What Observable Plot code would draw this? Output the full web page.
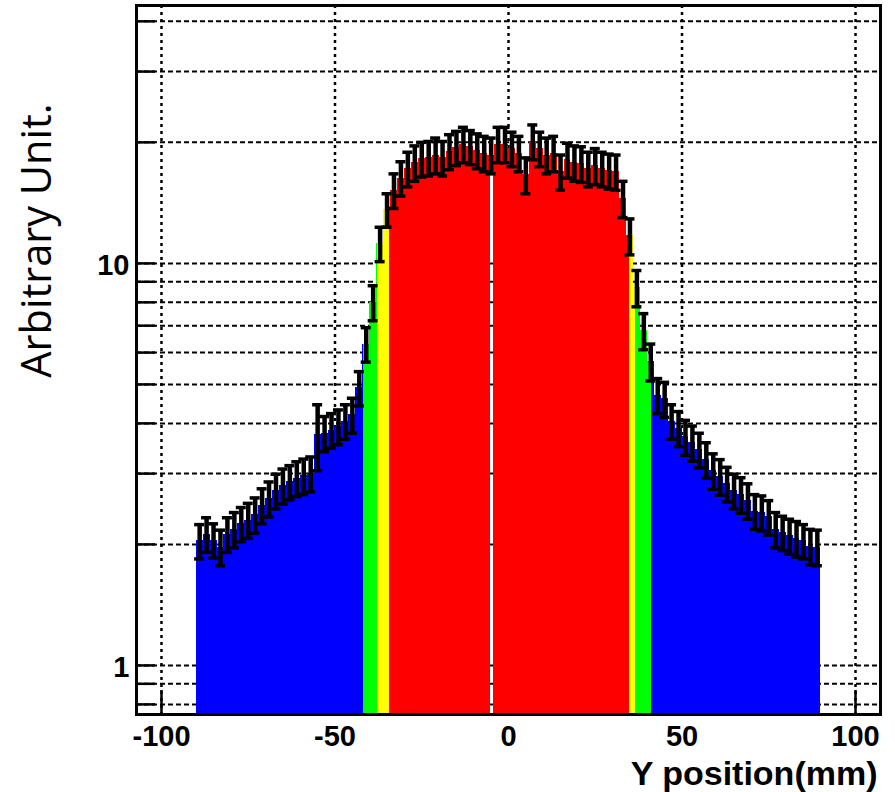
<!DOCTYPE html>
<html><head><meta charset="utf-8">
<script src="https://cdn.jsdelivr.net/npm/d3@7"></script>
<script src="https://cdn.jsdelivr.net/npm/@observablehq/plot@0.6"></script>
<style>body{margin:0;background:#fff;} #chart svg{display:block;}</style>
</head><body><div id="chart"></div>
<script>
// ---- data ----
const binCenters = d3.range(-89, 90, 2); // 90 bins, 2 mm wide, -90..90
const values = [
  2.04, 2.12, 2.05, 1.97, 2.12, 2.18, 2.25, 2.30, 2.37, 2.50,
  2.60, 2.72, 2.80, 2.86, 2.92, 2.96, 3.00, 3.75, 3.78, 3.85,
  3.93, 4.05, 4.20, 4.90, 6.30, 8.00, 11.2, 13.6, 15.2, 16.3,
  17.2, 17.8, 18.2, 18.3, 18.6, 18.3, 19.0, 19.4, 19.8, 19.5,
  19.1, 18.8, 18.6, 19.8, 19.8,
  19.3, 18.8, 16.6, 20.1, 19.3, 18.6, 18.8, 16.9, 18.1, 17.8,
  17.7, 17.2, 17.5, 17.2, 17.0, 16.9, 14.5, 11.7, 8.7, 6.8,
  5.7, 4.70, 4.60, 4.05, 3.89, 3.70, 3.58, 3.44, 3.25, 3.05,
  2.95, 2.83, 2.72, 2.66, 2.57, 2.42, 2.40, 2.34, 2.18, 2.14,
  2.10, 2.07, 2.04, 1.98, 1.97
];
const errors = [
  0.20, 0.21, 0.20, 0.20, 0.21, 0.22, 0.22, 0.23, 0.24, 0.25,
  0.26, 0.27, 0.28, 0.28, 0.29, 0.30, 0.30, 0.70, 0.38, 0.38,
  0.39, 0.40, 0.42, 0.48, 0.62, 0.80, 1.10, 1.30, 1.50, 1.60,
  1.70, 1.80, 1.80, 1.80, 1.90, 1.80, 1.90, 1.90, 2.00, 1.90,
  1.90, 1.90, 1.90, 2.00, 2.00,
  1.90, 1.90, 1.70, 2.00, 1.90, 1.90, 1.90, 1.70, 1.80, 1.80,
  1.80, 1.70, 1.80, 1.70, 1.70, 1.70, 1.50, 1.20, 0.90, 0.70,
  0.60, 0.47, 0.46, 0.40, 0.39, 0.37, 0.36, 0.34, 0.33, 0.31,
  0.30, 0.28, 0.27, 0.27, 0.26, 0.24, 0.24, 0.23, 0.22, 0.21,
  0.21, 0.21, 0.20, 0.20, 0.20
];
const regionStart = [-90, -41.9, -37.8, -34.4, -4.4, 34.9, 36.6, 41.2];
const regionEnd   = [-41.9, -37.8, -34.4, -5.3, 34.9, 36.6, 41.2, 90];
const regionColor = ["#0000ff", "#00ff00", "#ffff00", "#ff0000", "#ff0000", "#ffff00", "#00ff00", "#0000ff"];
const yGridValues = [0.8, 0.9, 1, 2, 3, 4, 5, 6, 7, 8, 9, 10, 20, 30, 40];
const yTickLabels = [1, 10];
const xTickValues = [-100, -50, 0, 50, 100];
const xTitle = "Y position(mm)";
const yTitle = "Arbitrary Unit.";

// ---- layout ----
const W = 895, H = 792, mL = 136, mR = 15, mT = 5, mB = 78;
const xDomain = [-107.2, 107.2], yDomain = [0.755, 43.8];
const pxPerMM = (W - mL - mR) / (xDomain[1] - xDomain[0]);
const pxPerDecade = (H - mT - mB) / Math.log10(yDomain[1] / yDomain[0]);
const yTickLen = 19 / pxPerMM;
const xTickTop = yDomain[0] * Math.pow(10, 24 / pxPerDecade);
const capHalf = 5 / pxPerMM;

const bins = binCenters.map((x, i) => ({x, v: values[i], e: errors[i]}));
const fills = [];
for (const b of bins) {
  for (let r = 0; r < regionStart.length; r++) {
    const a = Math.max(b.x - 1, regionStart[r]), c = Math.min(b.x + 1, regionEnd[r]);
    if (c > a) fills.push({x1: a, x2: c, v: b.v, color: regionColor[r]});
  }
}

const font = "'Liberation Sans', Arial, sans-serif";
const chart = Plot.plot({
  width: W, height: H,
  marginLeft: mL, marginRight: mR, marginTop: mT, marginBottom: mB,
  style: {fontFamily: font, background: "#fff", color: "black"},
  x: {domain: xDomain, label: null},
  y: {type: "log", domain: yDomain, label: null},
  color: {type: "identity"},
  marks: [
    Plot.ruleY(yGridValues, {y: d => d, stroke: "black", strokeWidth: 2, strokeDasharray: "5,3"}),
    Plot.ruleX(xTickValues, {x: d => d, stroke: "black", strokeWidth: 2.5, strokeDasharray: "3,4"}),
    Plot.ruleY(yGridValues, {y: d => d, x1: xDomain[0], x2: xDomain[0] + yTickLen, stroke: "black", strokeWidth: 2.5}),
    Plot.ruleX(xTickValues, {x: d => d, y1: yDomain[0], y2: xTickTop, stroke: "black", strokeWidth: 2.5}),
    Plot.rectY(fills, {x1: "x1", x2: "x2", y1: yDomain[0], y2: "v", fill: "color", shapeRendering: "crispEdges"}),
    Plot.ruleX(bins, {x: "x", y1: d => d.v - d.e, y2: d => d.v + d.e, stroke: "black", strokeWidth: 4.5}),
    Plot.ruleY(bins, {y: d => d.v + d.e, x1: d => d.x - capHalf, x2: d => d.x + capHalf, stroke: "black", strokeWidth: 3.5}),
    Plot.ruleY(bins, {y: d => d.v - d.e, x1: d => d.x - capHalf, x2: d => d.x + capHalf, stroke: "black", strokeWidth: 3.5}),
    Plot.frame({stroke: "black", strokeWidth: 3}),
    Plot.axisY(yTickLabels, {tickSize: 0, tickPadding: 7, fontSize: 29, fontWeight: "bold", tickFormat: d => String(d), dy: 2, label: null}),
    Plot.axisX(xTickValues, {tickSize: 0, tickPadding: 11, fontSize: 29, fontWeight: "bold", tickFormat: d => String(d), label: null}),
    Plot.text([xTitle], {text: d => d, frameAnchor: "bottom-right", dx: -3, dy: 46, textAnchor: "end", lineAnchor: "top", fontSize: 34, fontWeight: "bold"}),
    Plot.text([yTitle], {text: d => d, frameAnchor: "left", rotate: -90, dx: 21 - mL, dy: 240 - (mT + (H - mT - mB) / 2), textAnchor: "middle", lineAnchor: "top", fontSize: 41.5, fontFamily: "'Open Sans'", fontWeight: "normal"})
  ]
});
document.getElementById("chart").appendChild(chart);
</script>
</body></html>
